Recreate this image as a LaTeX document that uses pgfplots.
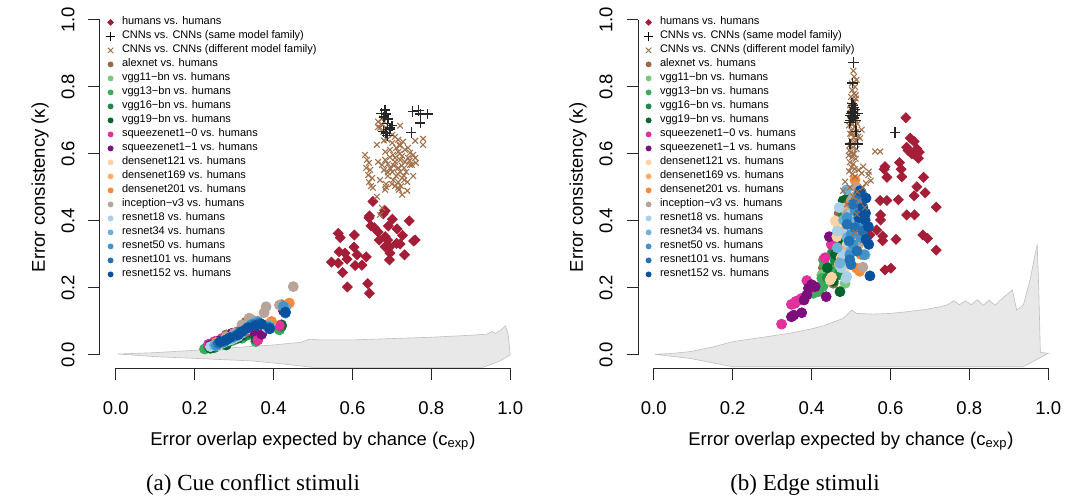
\documentclass[border=0pt]{standalone}
\usepackage{pgfplots}
\pgfplotsset{compat=1.18}
\usepackage{fontspec}
\setmainfont{Liberation Sans}
\newfontfamily\capfont{Liberation Serif}

\definecolor{chum}{HTML}{A51E37}
\definecolor{cdiff}{HTML}{A0714B}
\definecolor{calex}{HTML}{956A48}
\definecolor{cv11}{HTML}{7BC77E}
\definecolor{cv13}{HTML}{3DAA5D}
\definecolor{cv16}{HTML}{1E8A46}
\definecolor{cv19}{HTML}{00652B}
\definecolor{csq0}{HTML}{E2319A}
\definecolor{csq1}{HTML}{7D0F7D}
\definecolor{cd121}{HTML}{FDD2A5}
\definecolor{cd169}{HTML}{FDAE6B}
\definecolor{cd201}{HTML}{F98A3A}
\definecolor{cinc}{HTML}{B7A49A}
\definecolor{cr18}{HTML}{A9D0E6}
\definecolor{cr34}{HTML}{6FB0D8}
\definecolor{cr50}{HTML}{4393C8}
\definecolor{cr101}{HTML}{2171B5}
\definecolor{cr152}{HTML}{08519C}
\definecolor{band}{HTML}{E8E8E8}

\pgfplotsset{
  li/.style={legend image code/.code={\path[draw=none, fill=none] (0pt,-2.5pt) rectangle (4pt,2.5pt);\draw[##1] plot coordinates {(2pt,0pt)};}},
  circ/.style={only marks, mark=*, mark size=2.5pt, forget plot, color=#1},
  diam/.style={only marks, mark=square*, mark options={rotate=45}, mark size=1.75pt, forget plot, color=chum},
  crs/.style={only marks, mark=x, mark size=2pt, line width=0.55pt, forget plot, color=cdiff},
  pls/.style={only marks, mark=+, mark size=2.6pt, line width=0.7pt, forget plot, color=black!85},
  lc/.style={only marks, mark=*, mark size=1.25pt, color=#1, li},
  myaxis/.style={
    scale only axis, width=213pt, height=181pt,
    xmin=-0.04, xmax=1.04, ymin=-0.04, ymax=1.04,
    clip=false,
    axis line style={draw=none},
    tick align=outside, tick pos=left, major tick length=5.75pt,
    tick style={black!85, line width=0.5pt},
    xtick={0,0.2,0.4,0.6,0.8,1}, ytick={0,0.2,0.4,0.6,0.8,1},
    /pgf/number format/assume math mode=true,
    /pgf/number format/fixed, /pgf/number format/fixed zerofill, /pgf/number format/precision=1,
    tick label style={font=\fontsize{9.25}{11}\selectfont},
    xticklabel style={anchor=north, inner sep=0pt},
    yticklabel style={rotate=90, anchor=south, inner sep=0pt},
    xticklabel shift=10.75pt, yticklabel shift=6.75pt,
    every axis x label/.style={at={(rel axis cs:0.5,0)}, anchor=center, yshift=-36.3pt, font=\fontsize{9.25}{11}\selectfont},
    every axis y label/.style={at={(rel axis cs:0,0.5)}, xshift=-30pt, rotate=90, anchor=center, font=\fontsize{9.25}{11}\selectfont},
    xlabel={Error overlap expected by chance (c\textsubscript{exp})},
    ylabel={Error consistency (κ)},
    legend style={at={(0,1)}, anchor=north west, xshift=3pt, yshift=-4.5pt, draw=none, fill=none,
      inner sep=0pt, outer sep=0pt, font=\fontsize{5.5}{7}\selectfont, row sep=0pt,
      nodes={inner sep=0pt, text height=4.5pt, text depth=2.5pt},
      /tikz/every odd column/.style={column sep=3.4pt}},
    legend cell align=left,
  },
}

\newcommand{\mylegend}{%
  \addlegendimage{only marks, mark=square*, mark options={rotate=45}, mark size=1pt, color=chum, li}
  \addlegendentry{humans vs. humans}
  \addlegendimage{only marks, mark=+, mark size=2.3pt, line width=0.6pt, color=black, li}
  \addlegendentry{CNNs vs. CNNs (same model family)}
  \addlegendimage{only marks, mark=x, mark size=1.9pt, line width=0.5pt, color=cdiff, li}
  \addlegendentry{CNNs vs. CNNs (different model family)}
  \addlegendimage{lc=calex}\addlegendentry{alexnet vs. humans}
  \addlegendimage{lc=cv11}\addlegendentry{vgg11−bn vs. humans}
  \addlegendimage{lc=cv13}\addlegendentry{vgg13−bn vs. humans}
  \addlegendimage{lc=cv16}\addlegendentry{vgg16−bn vs. humans}
  \addlegendimage{lc=cv19}\addlegendentry{vgg19−bn vs. humans}
  \addlegendimage{lc=csq0}\addlegendentry{squeezenet1−0 vs. humans}
  \addlegendimage{lc=csq1}\addlegendentry{squeezenet1−1 vs. humans}
  \addlegendimage{lc=cd121}\addlegendentry{densenet121 vs. humans}
  \addlegendimage{lc=cd169}\addlegendentry{densenet169 vs. humans}
  \addlegendimage{lc=cd201}\addlegendentry{densenet201 vs. humans}
  \addlegendimage{lc=cinc}\addlegendentry{inception−v3 vs. humans}
  \addlegendimage{lc=cr18}\addlegendentry{resnet18 vs. humans}
  \addlegendimage{lc=cr34}\addlegendentry{resnet34 vs. humans}
  \addlegendimage{lc=cr50}\addlegendentry{resnet50 vs. humans}
  \addlegendimage{lc=cr101}\addlegendentry{resnet101 vs. humans}
  \addlegendimage{lc=cr152}\addlegendentry{resnet152 vs. humans}
}

\begin{document}
\begin{tikzpicture}
\useasboundingbox (-50pt,-65.3pt) rectangle (485pt,184.2pt);

% ---------------- (a) cue conflict ----------------
\begin{axis}[myaxis, at={(0pt,0pt)}, anchor=south west]
\mylegend
\draw[black!85, line width=0.5pt] (axis cs:0,-0.04) -- (axis cs:1,-0.04);
\draw[black!85, line width=0.5pt] (axis cs:-0.04,0) -- (axis cs:-0.04,1);
\addplot[fill=band, draw=black!25, line width=0.3pt, forget plot] coordinates {
(0.006,0.003)(0.1,0.007)(0.2,0.014)(0.3,0.022)(0.4,0.030)(0.47,0.038)(0.49,0.047)(0.52,0.045)
(0.6,0.045)(0.7,0.049)(0.8,0.053)(0.9,0.059)(0.94,0.062)(0.955,0.070)(0.962,0.064)(0.975,0.073)
(0.988,0.087)(0.995,0.06)(1.0,0.0)(0.97,-0.020)(0.93,-0.037)(0.50,-0.037)(0.45,-0.030)
(0.35,-0.018)(0.2,-0.010)(0.1,-0.005)(0.006,0.003)};
\addplot[diam] coordinates {
(0.652,0.458)(0.643,0.415)(0.642,0.409)(0.647,0.385)(0.655,0.380)(0.683,0.430)(0.701,0.405)
(0.691,0.385)(0.744,0.400)(0.564,0.363)(0.569,0.350)(0.605,0.358)(0.668,0.343)(0.683,0.353)
(0.689,0.343)(0.683,0.323)(0.695,0.323)(0.712,0.333)(0.721,0.331)(0.727,0.357)(0.755,0.340)
(0.759,0.343)(0.604,0.322)(0.566,0.308)(0.581,0.304)(0.586,0.286)(0.612,0.299)(0.635,0.293)
(0.547,0.277)(0.564,0.274)(0.607,0.267)(0.624,0.268)(0.695,0.304)(0.694,0.284)(0.732,0.299)
(0.575,0.246)(0.587,0.203)(0.639,0.213)(0.643,0.184)(0.665,0.367)(0.678,0.421)(0.713,0.376)};
\addplot[circ=calex] coordinates {(0.28,0.060)(0.33,0.098)(0.30,0.052)(0.25,0.035)(0.42,0.150)(0.34,0.100)(0.27,0.045)(0.31,0.070)(0.36,0.095)(0.24,0.028)};
\addplot[circ=cv11] coordinates {(0.23,0.020)(0.26,0.030)(0.29,0.040)(0.31,0.055)(0.33,0.060)(0.25,0.025)(0.28,0.035)(0.35,0.070)(0.27,0.030)(0.41,0.080)};
\addplot[circ=cv13] coordinates {(0.225,0.018)(0.245,0.022)(0.27,0.035)(0.30,0.045)(0.32,0.050)(0.355,0.040)(0.415,0.075)(0.26,0.028)(0.29,0.042)(0.34,0.065)};
\addplot[circ=cv16] coordinates {(0.235,0.025)(0.255,0.030)(0.28,0.040)(0.30,0.048)(0.33,0.058)(0.36,0.045)(0.42,0.085)(0.27,0.038)(0.31,0.062)(0.25,0.022)};
\addplot[circ=cv19] coordinates {(0.24,0.020)(0.26,0.035)(0.29,0.045)(0.31,0.050)(0.34,0.068)(0.355,0.048)(0.42,0.090)(0.28,0.030)(0.32,0.058)(0.27,0.042)};
\addplot[circ=csq0] coordinates {(0.235,0.032)(0.25,0.040)(0.265,0.036)(0.29,0.048)(0.32,0.065)(0.36,0.045)(0.415,0.088)(0.30,0.055)(0.27,0.050)(0.33,0.070)};
\addplot[circ=csq1] coordinates {(0.24,0.030)(0.26,0.042)(0.28,0.050)(0.30,0.060)(0.33,0.075)(0.37,0.062)(0.425,0.132)(0.295,0.065)(0.35,0.072)(0.27,0.038)};
\addplot[circ=cd121] coordinates {(0.25,0.030)(0.27,0.040)(0.30,0.050)(0.33,0.075)(0.35,0.095)(0.38,0.085)(0.43,0.140)(0.29,0.045)(0.32,0.070)(0.26,0.028)};
\addplot[circ=cd169] coordinates {(0.26,0.035)(0.28,0.045)(0.31,0.060)(0.34,0.095)(0.36,0.102)(0.39,0.095)(0.435,0.150)(0.30,0.055)(0.33,0.085)(0.27,0.040)};
\addplot[circ=cd201] coordinates {(0.255,0.038)(0.29,0.050)(0.32,0.070)(0.345,0.105)(0.355,0.098)(0.395,0.100)(0.44,0.155)(0.305,0.062)(0.335,0.090)(0.275,0.045)};
\addplot[circ=cinc] coordinates {(0.45,0.204)(0.381,0.144)(0.376,0.126)(0.415,0.149)(0.355,0.095)(0.338,0.110)(0.32,0.090)(0.30,0.065)(0.28,0.055)(0.36,0.100)};
\addplot[circ=cr18] coordinates {(0.24,0.025)(0.27,0.035)(0.29,0.045)(0.31,0.055)(0.33,0.080)(0.35,0.090)(0.385,0.080)(0.43,0.130)(0.28,0.040)(0.26,0.030)};
\addplot[circ=cr34] coordinates {(0.25,0.030)(0.275,0.040)(0.295,0.050)(0.32,0.065)(0.34,0.088)(0.355,0.100)(0.39,0.088)(0.43,0.140)(0.30,0.058)(0.265,0.035)};
\addplot[circ=cr50] coordinates {(0.255,0.028)(0.28,0.045)(0.30,0.055)(0.325,0.072)(0.345,0.092)(0.36,0.098)(0.385,0.085)(0.425,0.145)(0.31,0.062)(0.27,0.038)};
\addplot[circ=cr101] coordinates {(0.26,0.035)(0.285,0.048)(0.305,0.058)(0.33,0.078)(0.35,0.090)(0.365,0.095)(0.39,0.082)(0.43,0.125)(0.315,0.068)(0.275,0.040)};
\addplot[circ=cr152] coordinates {(0.265,0.040)(0.29,0.052)(0.31,0.060)(0.335,0.082)(0.355,0.088)(0.37,0.092)(0.39,0.078)(0.43,0.128)(0.32,0.070)(0.28,0.045)};
\addplot[crs] coordinates {
(0.708,0.651)(0.716,0.642)(0.701,0.633)(0.721,0.627)(0.728,0.636)(0.711,0.618)(0.695,0.612)
(0.733,0.612)(0.741,0.618)(0.716,0.606)(0.703,0.597)(0.726,0.594)(0.746,0.603)(0.754,0.597)
(0.721,0.582)(0.708,0.576)(0.733,0.576)(0.683,0.582)(0.690,0.570)(0.675,0.567)(0.695,0.558)
(0.716,0.558)(0.731,0.558)(0.746,0.567)(0.665,0.576)(0.680,0.552)(0.701,0.546)(0.721,0.546)
(0.736,0.546)(0.711,0.534)(0.726,0.528)(0.690,0.534)(0.716,0.516)(0.731,0.522)(0.703,0.522)
(0.670,0.522)(0.685,0.510)(0.708,0.504)(0.723,0.504)(0.662,0.627)(0.678,0.666)(0.685,0.678)
(0.670,0.678)(0.665,0.696)(0.680,0.696)(0.701,0.657)(0.751,0.567)(0.761,0.573)(0.708,0.588)
(0.683,0.606)(0.741,0.588)(0.718,0.493)(0.683,0.493)
(0.632,0.597)(0.637,0.582)(0.642,0.573)(0.635,0.558)(0.645,0.552)(0.640,0.537)(0.650,0.528)
(0.642,0.516)(0.647,0.504)
(0.652,0.499)(0.662,0.472)(0.675,0.439)(0.670,0.418)(0.685,0.501)(0.716,0.499)(0.726,0.478)
(0.739,0.490)(0.739,0.516)(0.754,0.534)(0.759,0.639)(0.779,0.645)(0.779,0.627)(0.759,0.588)
(0.721,0.684)(0.675,0.687)(0.688,0.642)
(0.720,0.600)(0.705,0.565)(0.725,0.565)(0.695,0.590)(0.715,0.540)(0.690,0.545)(0.730,0.535)
(0.700,0.510)(0.720,0.625)(0.745,0.580)(0.680,0.640)(0.665,0.680)(0.675,0.705)(0.680,0.715)};
\addplot[pls] coordinates {
(0.683,0.731)(0.674,0.721)(0.685,0.719)(0.689,0.690)(0.700,0.684)(0.694,0.672)(0.685,0.662)
(0.689,0.654)(0.753,0.726)(0.767,0.729)(0.772,0.719)(0.790,0.719)(0.772,0.692)(0.749,0.664)
(0.678,0.667)(0.695,0.677)(0.680,0.710)(0.690,0.704)};
\end{axis}

% ---------------- (b) edge ----------------
\begin{axis}[myaxis, at={(269pt,0pt)}, anchor=south west]
\mylegend
\draw[black!85, line width=0.5pt] (axis cs:0,-0.04) -- (axis cs:1,-0.04);
\draw[black!85, line width=0.5pt] (axis cs:-0.04,0) -- (axis cs:-0.04,1);
\addplot[fill=band, draw=black!25, line width=0.3pt, forget plot] coordinates {
(0.003,0.002)(0.05,0.005)(0.091,0.010)(0.15,0.024)(0.201,0.040)(0.26,0.050)(0.30,0.057)
(0.345,0.065)(0.40,0.078)(0.43,0.087)(0.48,0.109)(0.502,0.134)(0.514,0.124)(0.557,0.122)
(0.60,0.124)(0.641,0.129)(0.69,0.136)(0.726,0.144)(0.745,0.150)(0.76,0.162)(0.775,0.150)
(0.79,0.162)(0.805,0.150)(0.82,0.165)(0.835,0.148)(0.85,0.164)(0.865,0.148)(0.88,0.165)
(0.90,0.185)(0.909,0.194)(0.92,0.134)(0.937,0.149)(0.955,0.230)(0.967,0.303)(0.972,0.328)
(0.976,0.20)(0.98,0.008)(1.0,0.005)(0.937,-0.035)(0.20,-0.035)(0.091,-0.010)(0.003,0.002)};
\addplot[diam] coordinates {
(0.639,0.708)(0.650,0.647)(0.660,0.637)(0.641,0.620)(0.654,0.600)(0.665,0.594)(0.671,0.587)
(0.623,0.574)(0.586,0.562)(0.627,0.554)(0.584,0.554)(0.591,0.530)(0.629,0.532)(0.684,0.530)
(0.667,0.502)(0.660,0.475)(0.688,0.484)(0.574,0.461)(0.591,0.461)(0.620,0.463)(0.716,0.441)
(0.641,0.418)(0.661,0.418)(0.575,0.418)(0.575,0.403)(0.565,0.373)(0.548,0.358)(0.580,0.355)
(0.580,0.341)(0.614,0.345)(0.682,0.358)(0.694,0.348)(0.716,0.313)(0.586,0.254)(0.601,0.259)
(0.667,0.615)(0.673,0.605)(0.645,0.610)};
\addplot[circ=calex] coordinates {(0.470,0.423)(0.472,0.304)(0.455,0.214)(0.464,0.299)(0.48,0.36)(0.50,0.39)(0.445,0.25)(0.46,0.33)(0.49,0.28)(0.43,0.26)};
\addplot[circ=cv11] coordinates {(0.481,0.323)(0.485,0.214)(0.426,0.239)(0.430,0.209)(0.47,0.35)(0.49,0.30)(0.46,0.27)(0.50,0.40)(0.475,0.38)(0.445,0.22)};
\addplot[circ=cv13] coordinates {(0.426,0.229)(0.404,0.184)(0.417,0.189)(0.428,0.204)(0.430,0.284)(0.434,0.269)(0.45,0.30)(0.47,0.33)(0.49,0.37)(0.46,0.25)};
\addplot[circ=cv16] coordinates {(0.491,0.466)(0.479,0.413)(0.44,0.23)(0.46,0.28)(0.48,0.34)(0.50,0.43)(0.455,0.31)(0.47,0.24)(0.49,0.38)(0.465,0.36)};
\addplot[circ=cv19] coordinates {(0.472,0.189)(0.493,0.468)(0.48,0.46)(0.46,0.30)(0.50,0.36)(0.485,0.40)(0.44,0.26)(0.475,0.33)(0.495,0.27)(0.455,0.22)};
\addplot[circ=csq0] coordinates {(0.324,0.092)(0.349,0.151)(0.358,0.154)(0.369,0.164)(0.375,0.169)(0.388,0.222)(0.434,0.290)(0.36,0.160)(0.40,0.200)(0.45,0.33)};
\addplot[circ=csq1] coordinates {(0.349,0.114)(0.355,0.119)(0.375,0.126)(0.381,0.164)(0.388,0.179)(0.392,0.199)(0.400,0.210)(0.409,0.204)(0.437,0.174)(0.445,0.353)};
\addplot[circ=cd121] coordinates {(0.483,0.438)(0.468,0.383)(0.447,0.224)(0.464,0.353)(0.451,0.232)(0.49,0.33)(0.475,0.29)(0.50,0.41)(0.46,0.40)(0.485,0.26)};
\addplot[circ=cd169] coordinates {(0.49,0.44)(0.50,0.35)(0.48,0.31)(0.51,0.47)(0.47,0.27)(0.505,0.38)(0.515,0.42)(0.495,0.29)(0.485,0.37)(0.52,0.33)};
\addplot[circ=cd201] coordinates {(0.510,0.522)(0.510,0.408)(0.514,0.259)(0.522,0.250)(0.50,0.46)(0.52,0.44)(0.505,0.32)(0.515,0.36)(0.495,0.40)(0.525,0.30)};
\addplot[circ=cinc] coordinates {(0.514,0.500)(0.518,0.443)(0.514,0.313)(0.530,0.262)(0.50,0.37)(0.52,0.39)(0.49,0.42)(0.525,0.34)(0.475,0.28)(0.505,0.47)};
\addplot[circ=cr18] coordinates {(0.489,0.363)(0.487,0.229)(0.489,0.234)(0.47,0.44)(0.48,0.30)(0.50,0.42)(0.495,0.33)(0.465,0.37)(0.51,0.45)(0.475,0.26)};
\addplot[circ=cr34] coordinates {(0.489,0.493)(0.481,0.403)(0.536,0.299)(0.472,0.274)(0.50,0.45)(0.49,0.35)(0.515,0.40)(0.50,0.31)(0.465,0.32)(0.52,0.48)};
\addplot[circ=cr50] coordinates {(0.527,0.483)(0.533,0.299)(0.497,0.299)(0.51,0.43)(0.52,0.39)(0.50,0.36)(0.525,0.35)(0.49,0.41)(0.515,0.46)(0.505,0.33)};
\addplot[circ=cr101] coordinates {(0.497,0.284)(0.50,0.27)(0.51,0.38)(0.52,0.42)(0.505,0.45)(0.495,0.34)(0.515,0.31)(0.53,0.37)(0.49,0.39)(0.52,0.48)};
\addplot[circ=cr152] coordinates {(0.538,0.468)(0.537,0.423)(0.536,0.403)(0.544,0.383)(0.538,0.345)(0.548,0.236)(0.523,0.490)(0.53,0.44)(0.545,0.33)(0.52,0.41)};
\addplot[crs] coordinates {
(0.506,0.848)(0.514,0.821)(0.510,0.800)(0.503,0.790)(0.508,0.780)(0.500,0.770)(0.512,0.765)
(0.505,0.755)(0.498,0.745)(0.510,0.740)(0.503,0.730)(0.515,0.725)(0.497,0.720)(0.507,0.715)
(0.500,0.705)(0.512,0.700)(0.504,0.690)(0.495,0.685)(0.509,0.680)(0.501,0.670)(0.513,0.665)
(0.498,0.660)(0.507,0.650)(0.519,0.652)(0.500,0.640)(0.511,0.635)(0.496,0.625)(0.505,0.620)
(0.514,0.615)(0.499,0.605)(0.508,0.600)(0.494,0.595)(0.503,0.590)(0.512,0.585)(0.497,0.575)
(0.506,0.570)(0.501,0.560)(0.510,0.555)(0.495,0.548)(0.504,0.540)(0.512,0.775)(0.502,0.810)
(0.508,0.830)(0.498,0.700)(0.516,0.690)(0.499,0.735)(0.509,0.755)(0.502,0.660)(0.513,0.640)
(0.496,0.610)(0.505,0.600)
(0.527,0.672)(0.523,0.647)(0.561,0.607)(0.574,0.607)(0.531,0.562)(0.519,0.552)(0.544,0.537)
(0.510,0.532)(0.485,0.517)(0.538,0.513)(0.516,0.487)(0.506,0.473)(0.510,0.365)(0.527,0.542)
(0.545,0.547)(0.497,0.500)(0.520,0.460)(0.530,0.500)(0.490,0.450)(0.515,0.420)(0.535,0.440)
(0.480,0.490)(0.550,0.520)};
\addplot[pls] coordinates {
(0.506,0.873)(0.504,0.811)(0.503,0.751)(0.510,0.733)(0.516,0.721)(0.502,0.711)(0.499,0.699)
(0.496,0.693)(0.513,0.667)(0.612,0.664)(0.497,0.630)(0.516,0.629)(0.506,0.707)(0.508,0.739)
(0.500,0.720)(0.505,0.745)(0.498,0.715)(0.511,0.700)(0.503,0.725)(0.509,0.715)};
\end{axis}

\node[font=\capfont\fontsize{11.5}{13}\selectfont] at (76.5pt,-58.3pt) {(a) Cue conflict stimuli};
\node[font=\capfont\fontsize{11.5}{13}\selectfont] at (352.5pt,-58.3pt) {(b) Edge stimuli};
\end{tikzpicture}
\end{document}
